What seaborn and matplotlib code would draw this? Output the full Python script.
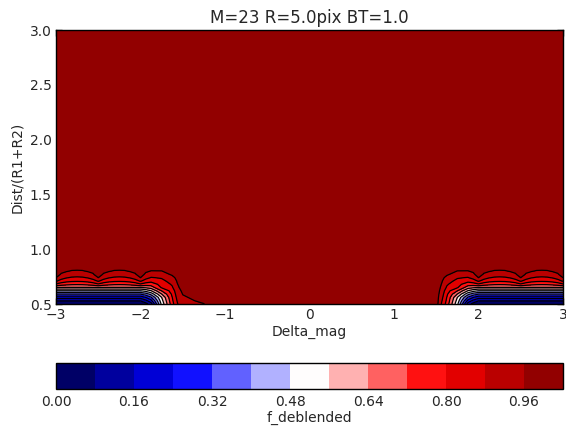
import numpy as np
import matplotlib
matplotlib.use("Agg")
import matplotlib.pyplot as plt
import seaborn as sns

# ---------------- data ----------------
title = "M=23 R=5.0pix BT=1.0"
x_label = "Delta_mag"
y_label = "Dist/(R1+R2)"
cbar_label = "f_deblended"

# grid nodes (Delta_mag), each with the name of its profile
delta_mag = [-3.0, -2.9375, -2.875, -2.8125, -2.75, -2.6875, -2.625, -2.5625,
             -2.5, -2.4375, -2.375, -2.3125, -2.25, -2.1875, -2.125, -2.0625,
             -2.0, -1.9375, -1.875, -1.75, -1.625, -1.5625, -1.5, -1.375, -1.25,
             -1.125, 1.5, 1.5625, 1.625, 1.75, 1.875, 1.9375,
             2.0, 2.0625, 2.125, 2.1875, 2.25, 2.3125, 2.375, 2.4375,
             2.5, 2.5625, 2.625, 2.6875, 2.75, 2.8125, 2.875, 2.9375, 3.0]
column_profile = ["cusp", "c1", "shoulder", "p1", "peak", "p1", "shoulder", "c1",
                  "cusp", "c1", "shoulder", "p1", "peak", "p1", "shoulder", "c1",
                  "cusp", "t0", "t1", "t2", "t3", "t35", "t4", "t5", "t6",
                  "ones", "ones", "t35", "t3", "t2", "t1", "t0",
                  "cusp", "c1", "shoulder", "p1", "peak", "p1", "shoulder", "c1",
                  "cusp", "c1", "shoulder", "p1", "peak", "p1", "shoulder", "c1", "cusp"]

# Dist/(R1+R2) nodes
dist = [0.50, 0.53, 0.56, 0.59, 0.62, 0.65, 0.68, 0.71, 0.74, 0.77, 0.80, 0.83, 3.00]

# f_deblended vertical profiles (values at the dist nodes)
prof_cusp     = [0.02, 0.084, 0.192, 0.320, 0.475, 0.635, 0.790, 0.890, 0.960, 0.995, 1.000, 1.000, 1.0]
prof_c1       = [0.02, 0.084, 0.192, 0.320, 0.475, 0.635, 0.758, 0.848, 0.912, 0.952, 0.976, 0.994, 1.0]
prof_shoulder = [0.02, 0.084, 0.192, 0.320, 0.475, 0.635, 0.742, 0.824, 0.884, 0.926, 0.966, 0.992, 1.0]
prof_p1       = [0.02, 0.084, 0.192, 0.320, 0.475, 0.635, 0.733, 0.814, 0.872, 0.915, 0.954, 0.983, 1.0]
prof_peak     = [0.02, 0.084, 0.192, 0.320, 0.475, 0.635, 0.731, 0.811, 0.869, 0.912, 0.952, 0.982, 1.0]
prof_t0       = [0.05, 0.140, 0.240, 0.360, 0.505, 0.650, 0.763, 0.846, 0.905, 0.944, 0.972, 0.992, 1.0]
prof_t1       = [0.12, 0.215, 0.310, 0.425, 0.553, 0.674, 0.758, 0.823, 0.875, 0.920, 0.957, 0.985, 1.0]
prof_t2       = [0.50, 0.530, 0.558, 0.636, 0.720, 0.808, 0.827, 0.860, 0.887, 0.922, 0.958, 0.986, 1.0]
prof_t3       = [0.77, 0.785, 0.798, 0.815, 0.835, 0.870, 0.890, 0.910, 0.935, 0.972, 0.990, 1.000, 1.0]
prof_t35      = [0.875, 0.890, 0.905, 0.920, 0.935, 0.948, 0.958, 0.970, 0.985, 1.000, 1.000, 1.000, 1.0]
prof_t4       = [0.93, 0.940, 0.952, 0.962, 0.972, 0.985, 0.995, 1.000, 1.000, 1.000, 1.000, 1.000, 1.0]
prof_t5       = [0.95, 0.958, 0.968, 0.980, 0.990, 1.000, 1.000, 1.000, 1.000, 1.000, 1.000, 1.000, 1.0]
prof_t6       = [0.958, 0.975, 1.000, 1.000, 1.000, 1.000, 1.000, 1.000, 1.000, 1.000, 1.000, 1.000, 1.0]
prof_ones     = [1.00, 1.000, 1.000, 1.000, 1.000, 1.000, 1.000, 1.000, 1.000, 1.000, 1.000, 1.000, 1.0]

profiles = {"cusp": prof_cusp, "c1": prof_c1, "shoulder": prof_shoulder, "p1": prof_p1,
            "peak": prof_peak, "t0": prof_t0, "t1": prof_t1, "t2": prof_t2, "t3": prof_t3,
            "t35": prof_t35, "t4": prof_t4, "t5": prof_t5, "t6": prof_t6, "ones": prof_ones}

levels = [0.00, 0.08, 0.16, 0.24, 0.32, 0.40, 0.48, 0.56, 0.64, 0.72, 0.80, 0.88, 0.96, 1.04]
cbar_ticks = [0.00, 0.16, 0.32, 0.48, 0.64, 0.80, 0.96]
x_ticks = [-3, -2, -1, 0, 1, 2, 3]
y_ticks = [0.5, 1.0, 1.5, 2.0, 2.5, 3.0]

# ---------------- style ----------------
sns.set_style("ticks", {
    "xtick.direction": "in", "ytick.direction": "in",
    "axes.edgecolor": "black", "axes.linewidth": 1.0,
})
plt.rcParams["font.family"] = ["DejaVu Sans"]
plt.rcParams["font.size"] = 10
plt.rcParams["xtick.top"] = True
plt.rcParams["ytick.right"] = True

cmap = sns.color_palette("seismic", as_cmap=True)

X, Y = np.meshgrid(np.array(delta_mag), np.array(dist))
Z = np.column_stack([profiles[name] for name in column_profile])

fig = plt.figure(figsize=(5.66, 4.26), dpi=100)
ax = fig.add_axes([56 / 566, 1 - 304 / 426, 507 / 566, 274 / 426])
cax = fig.add_axes([56 / 566, 1 - 389 / 426, 507 / 566, 26 / 426])

cf = ax.contourf(X, Y, Z, levels=levels, cmap=cmap)
ax.contour(X, Y, Z, levels=levels, colors="k", linewidths=0.9)

ax.set_xlim(-3, 3)
ax.set_ylim(0.5, 3.0)
ax.set_xticks(x_ticks)
ax.set_yticks(y_ticks)
ax.set_yticklabels([f"{v:.1f}" for v in y_ticks])
ax.tick_params(labelsize=10, direction="in", top=True, right=True, length=4, width=1, pad=3)
ax.set_xlabel(x_label, fontsize=10, labelpad=2)
ax.set_ylabel(y_label, fontsize=10, labelpad=4)
ax.set_title(title, fontsize=12, pad=5)
for s in ax.spines.values():
    s.set_color("black")
    s.set_linewidth(1.0)

cb = fig.colorbar(cf, cax=cax, orientation="horizontal", ticks=cbar_ticks)
cb.ax.set_xticklabels([f"{v:.2f}" for v in cbar_ticks])
cb.ax.tick_params(labelsize=10, direction="in", length=0, pad=4)
cb.set_label(cbar_label, fontsize=10, labelpad=2)
cb.outline.set_edgecolor("black")
cb.outline.set_linewidth(1.0)

fig.savefig("out.png", dpi=100)
